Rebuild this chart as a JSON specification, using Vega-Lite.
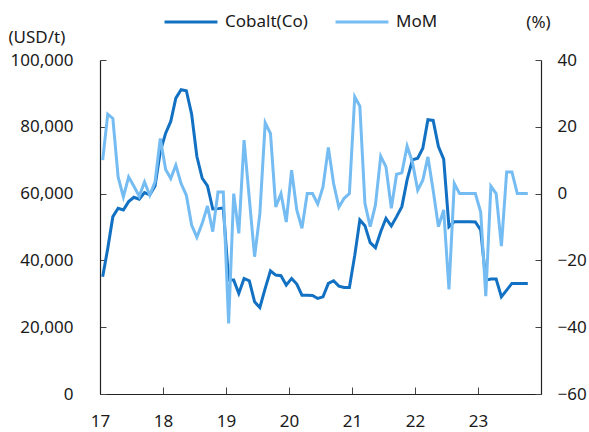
{
  "$schema": "https://vega.github.io/schema/vega-lite/v6.json",
  "width": 441,
  "height": 334,
  "autosize": {"type": "none"},
  "padding": {"left": 100, "top": 60, "right": 48, "bottom": 38},
  "config": {
    "view": {"stroke": null},
    "font": "Noto Sans",
    "axis": {"labelFontSize": 17, "labelColor": "#1a1a1a", "titleColor": "#1a1a1a", "titleFontWeight": "normal", "titleFontSize": 17, "grid": false, "domainColor": "#222", "tickColor": "#444", "domainWidth": 1.2}
  },
  "data": {"values": [
    {"date": "2017-01-01", "cobalt": 35100, "mom": 10.0},
    {"date": "2017-02-01", "cobalt": 43600, "mom": 23.8},
    {"date": "2017-03-01", "cobalt": 53100, "mom": 22.5},
    {"date": "2017-04-01", "cobalt": 55600, "mom": 5.0},
    {"date": "2017-05-01", "cobalt": 55100, "mom": -1.0},
    {"date": "2017-06-01", "cobalt": 57600, "mom": 5.0},
    {"date": "2017-07-01", "cobalt": 58900, "mom": 2.2},
    {"date": "2017-08-01", "cobalt": 58300, "mom": -0.8},
    {"date": "2017-09-01", "cobalt": 60300, "mom": 3.5},
    {"date": "2017-10-01", "cobalt": 59600, "mom": -0.5},
    {"date": "2017-11-01", "cobalt": 62300, "mom": 3.5},
    {"date": "2017-12-01", "cobalt": 72600, "mom": 16.5},
    {"date": "2018-01-01", "cobalt": 78100, "mom": 7.2},
    {"date": "2018-02-01", "cobalt": 81600, "mom": 4.5},
    {"date": "2018-03-01", "cobalt": 88600, "mom": 8.5},
    {"date": "2018-04-01", "cobalt": 91100, "mom": 3.0},
    {"date": "2018-05-01", "cobalt": 90800, "mom": -0.5},
    {"date": "2018-06-01", "cobalt": 83800, "mom": -9.4},
    {"date": "2018-07-01", "cobalt": 71100, "mom": -13.1},
    {"date": "2018-08-01", "cobalt": 64600, "mom": -8.9},
    {"date": "2018-09-01", "cobalt": 62300, "mom": -3.7},
    {"date": "2018-10-01", "cobalt": 55400, "mom": -11.4},
    {"date": "2018-11-01", "cobalt": 55500, "mom": 0.5},
    {"date": "2018-12-01", "cobalt": 55700, "mom": 0.5},
    {"date": "2019-01-01", "cobalt": 34100, "mom": -38.9},
    {"date": "2019-02-01", "cobalt": 34100, "mom": 0.0},
    {"date": "2019-03-01", "cobalt": 30100, "mom": -11.9},
    {"date": "2019-04-01", "cobalt": 34600, "mom": 16.0},
    {"date": "2019-05-01", "cobalt": 33900, "mom": -1.5},
    {"date": "2019-06-01", "cobalt": 27600, "mom": -18.9},
    {"date": "2019-07-01", "cobalt": 25900, "mom": -6.0},
    {"date": "2019-08-01", "cobalt": 31600, "mom": 21.2},
    {"date": "2019-09-01", "cobalt": 36900, "mom": 18.0},
    {"date": "2019-10-01", "cobalt": 35600, "mom": -4.0},
    {"date": "2019-11-01", "cobalt": 35400, "mom": 0.0},
    {"date": "2019-12-01", "cobalt": 32600, "mom": -8.5},
    {"date": "2020-01-01", "cobalt": 34600, "mom": 7.0},
    {"date": "2020-02-01", "cobalt": 32900, "mom": -4.9},
    {"date": "2020-03-01", "cobalt": 29600, "mom": -10.4},
    {"date": "2020-04-01", "cobalt": 29600, "mom": 0.0},
    {"date": "2020-05-01", "cobalt": 29500, "mom": 0.0},
    {"date": "2020-06-01", "cobalt": 28600, "mom": -3.1},
    {"date": "2020-07-01", "cobalt": 29100, "mom": 2.0},
    {"date": "2020-08-01", "cobalt": 33100, "mom": 13.8},
    {"date": "2020-09-01", "cobalt": 33900, "mom": 3.0},
    {"date": "2020-10-01", "cobalt": 32300, "mom": -4.1},
    {"date": "2020-11-01", "cobalt": 31900, "mom": -1.4},
    {"date": "2020-12-01", "cobalt": 31900, "mom": 0.0},
    {"date": "2021-01-01", "cobalt": 41500, "mom": 29.0},
    {"date": "2021-02-01", "cobalt": 52100, "mom": 26.2},
    {"date": "2021-03-01", "cobalt": 50400, "mom": -2.9},
    {"date": "2021-04-01", "cobalt": 45300, "mom": -9.9},
    {"date": "2021-05-01", "cobalt": 43800, "mom": -3.4},
    {"date": "2021-06-01", "cobalt": 48600, "mom": 11.2},
    {"date": "2021-07-01", "cobalt": 52600, "mom": 8.0},
    {"date": "2021-08-01", "cobalt": 50300, "mom": -4.4},
    {"date": "2021-09-01", "cobalt": 53100, "mom": 5.8},
    {"date": "2021-10-01", "cobalt": 56100, "mom": 6.2},
    {"date": "2021-11-01", "cobalt": 64100, "mom": 14.2},
    {"date": "2021-12-01", "cobalt": 70100, "mom": 9.5},
    {"date": "2022-01-01", "cobalt": 70600, "mom": 1.0},
    {"date": "2022-02-01", "cobalt": 73600, "mom": 4.0},
    {"date": "2022-03-01", "cobalt": 82100, "mom": 11.0},
    {"date": "2022-04-01", "cobalt": 81900, "mom": 1.0},
    {"date": "2022-05-01", "cobalt": 74100, "mom": -9.9},
    {"date": "2022-06-01", "cobalt": 70300, "mom": -4.9},
    {"date": "2022-07-01", "cobalt": 50100, "mom": -28.7},
    {"date": "2022-08-01", "cobalt": 51600, "mom": 3.0},
    {"date": "2022-09-01", "cobalt": 51600, "mom": 0.0},
    {"date": "2022-10-01", "cobalt": 51600, "mom": 0.0},
    {"date": "2022-11-01", "cobalt": 51600, "mom": 0.0},
    {"date": "2022-12-01", "cobalt": 51500, "mom": 0.0},
    {"date": "2023-01-01", "cobalt": 49100, "mom": -5.5},
    {"date": "2023-02-01", "cobalt": 34100, "mom": -30.7},
    {"date": "2023-03-01", "cobalt": 34400, "mom": 2.2},
    {"date": "2023-04-01", "cobalt": 34400, "mom": 0.0},
    {"date": "2023-05-01", "cobalt": 29100, "mom": -15.7},
    {"date": "2023-06-01", "cobalt": 31100, "mom": 6.5},
    {"date": "2023-07-01", "cobalt": 33100, "mom": 6.5},
    {"date": "2023-08-01", "cobalt": 33100, "mom": 0.0},
    {"date": "2023-09-01", "cobalt": 33100, "mom": 0.0},
    {"date": "2023-10-01", "cobalt": 33100, "mom": 0.0}
  ]},
  "encoding": {
    "x": {
      "field": "date", "type": "temporal", "timeUnit": "yearmonth", "bandPosition": 0.5,
      "scale": {"domain": [{"year": 2017, "month": 1, "date": 1}, {"year": 2024, "month": 1, "date": 1}]},
      "axis": {
        "title": null, "format": "%y", "formatType": "time",
        "values": [{"year": 2017, "month": 1, "date": 1}, {"year": 2018, "month": 1, "date": 1}, {"year": 2019, "month": 1, "date": 1}, {"year": 2020, "month": 1, "date": 1}, {"year": 2021, "month": 1, "date": 1}, {"year": 2022, "month": 1, "date": 1}, {"year": 2023, "month": 1, "date": 1}],
        "tickSize": -7, "labelPadding": 26, "labelFlush": false, "labelOverlap": false
      }
    },
    "color": {
      "type": "nominal",
      "scale": {"domain": ["Cobalt(Co)", "MoM"], "range": ["#1271C2", "#74BCF2"]},
      "legend": {
        "title": null, "orient": "none", "direction": "horizontal",
        "legendX": 63, "legendY": -66,
        "symbolType": "stroke", "symbolSize": 2800, "symbolStrokeWidth": 3,
        "labelFontSize": 17, "labelColor": "#1a1a1a", "labelOffset": 6, "columnPadding": 21
      }
    }
  },
  "layer": [
    {
      "mark": {"type": "line", "strokeWidth": 3},
      "encoding": {
        "y": {
          "field": "cobalt", "type": "quantitative",
          "scale": {"domain": [0, 100000], "nice": false},
          "axis": {
            "orient": "left", "values": [0, 20000, 40000, 60000, 80000, 100000], "format": ",d",
            "tickSize": -6, "labelPadding": 33,
            "title": "(USD/t)", "titleAngle": 0, "titleAlign": "left", "titleBaseline": "middle", "titleX": -92, "titleY": -23
          }
        },
        "color": {"datum": "Cobalt(Co)"}
      }
    },
    {
      "mark": {"type": "line", "strokeWidth": 3},
      "encoding": {
        "y": {
          "field": "mom", "type": "quantitative",
          "scale": {"domain": [-60, 40], "nice": false},
          "axis": {
            "orient": "right", "values": [-60, -40, -20, 0, 20, 40],
            "tickSize": -6, "labelPadding": 22,
            "title": "(%)", "titleAngle": 0, "titleAlign": "center", "titleBaseline": "middle", "titleX": -3, "titleY": -38
          }
        },
        "color": {"datum": "MoM"}
      }
    }
  ],
  "resolve": {"scale": {"y": "independent"}}
}
